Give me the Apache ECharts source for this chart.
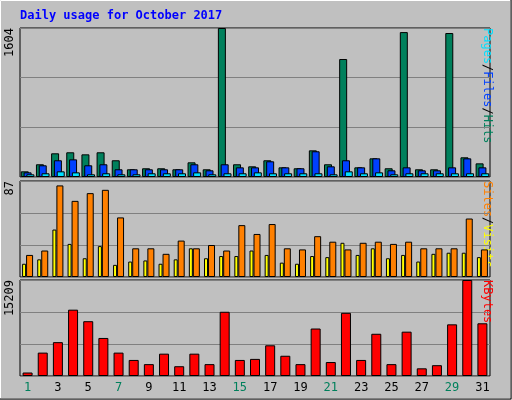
<!DOCTYPE html>
<html><head><meta charset="utf-8">
<script src="https://cdn.jsdelivr.net/npm/echarts@6/dist/echarts.min.js"></script>
<style>html,body{margin:0;padding:0;background:#C0C0C0}#c{width:512px;height:400px}</style>
</head><body><div id="c"></div>
<script>
const days = ['1','2','3','4','5','6','7','8','9','10','11','12','13','14','15','16','17','18','19','20','21','22','23','24','25','26','27','28','29','30','31'];
const weekend = ['1','7','8','14','15','21','22','28','29'];
const hits  = [61,137,255,266,244,266,180,83,94,94,83,158,83,1604,137,115,180,104,94,287,137,1270,104,201,94,1560,83,83,1550,212,147];
const files = [50,126,180,190,126,137,83,83,83,83,83,137,72,137,104,104,169,104,94,277,115,180,104,201,72,104,72,72,104,201,104];
const pages = [29,40,61,50,29,40,29,29,40,40,40,50,29,40,40,50,40,40,40,40,29,61,40,50,29,40,40,40,40,40,40];
const visits= [20,24,83,69,76,79,54,26,26,21,33,26,29,24,47,39,48,26,25,37,32,25,31,32,30,32,26,26,26,53,25];
const sites = [12,16,43,30,17,28,11,14,15,12,16,26,17,19,19,24,20,13,12,19,18,31,20,26,17,20,14,21,22,22,18];
const kbytes= [553,3705,5364,10507,8682,6027,3705,2544,1880,3539,1548,3539,1880,10175,2544,2710,4866,3207,1880,7521,2212,10009,2544,6691,1880,7023,1217,1714,8184,15209,8350];
const maxHits = 1604, maxVisits = 87, maxK = 15209;

const font = 'DejaVu Sans Mono';
const grids = [
  {left:20,top:28,width:470,height:149},
  {left:20,top:181,width:470,height:96},
  {left:20,top:280,width:470,height:96}
].map(g=>Object.assign(g,{show:true,backgroundColor:'#C0C0C0',borderColor:'#000',borderWidth:1}));
function xa(i,show){return {type:'category',gridIndex:i,data:days,axisLine:{show:false},axisTick:{show:false},
  axisLabel:{show:show,margin:6,fontFamily:font,fontSize:12,color:(v)=>weekend.includes(v)?'#00805C':'#000'}};}
function ya(i,max){return {type:'value',gridIndex:i,min:0,max:max,interval:max/3,axisLabel:{show:false},axisLine:{show:false},axisTick:{show:false},
  splitLine:{lineStyle:{color:'#808080',width:1}}};}
const bs = {borderColor:'#000',borderWidth:1};
function bar(name,data,i,color,w,gap){return {name,type:'bar',data,xAxisIndex:i,yAxisIndex:i,barWidth:w,barGap:gap,
  itemStyle:Object.assign({color},bs),animation:false,silent:true};}
const chart = echarts.init(document.getElementById('c'));
chart.setOption({
  backgroundColor:'#C0C0C0',
  animation:false,
  grid:grids,
  xAxis:[xa(0,false),xa(1,false),xa(2,true)],
  yAxis:[ya(0,maxHits),ya(1,maxVisits),ya(2,maxK)],
  series:[
    bar('Hits',hits,0,'#00805C',8,'-65%'),
    bar('Files',files,0,'#0040FF',8,'-65%'),
    bar('Pages',pages,0,'#00E0FF',8,'-65%'),
    bar('Sites',sites,1,'#FFFF00',4,'0%'),
    bar('Visits',visits,1,'#FF8000',7,'0%'),
    bar('KBytes',kbytes,2,'#FF0000',10,'0%')
  ],
  graphic:[
    {type:'rect',shape:{x:0.5,y:0.5,width:510,height:398},style:{fill:null,stroke:'#FFFFFF',lineWidth:1}},
    {type:'polyline',shape:{points:[[511,0],[511,399],[0,399]]},style:{stroke:'#000',lineWidth:1,fill:null}},
    {type:'text',x:20,y:16,style:{text:'Daily usage for October 2017',fill:'#0000FF',font:'bold 12px '+font,verticalAlign:'middle'}},
    {type:'text',x:16,y:28,rotation:Math.PI/2,style:{text:String(maxHits),fill:'#000',font:'12px '+font,align:'right',verticalAlign:'bottom'}},
    {type:'text',x:16,y:181,rotation:Math.PI/2,style:{text:String(maxVisits),fill:'#000',font:'12px '+font,align:'right',verticalAlign:'bottom'}},
    {type:'text',x:16,y:280,rotation:Math.PI/2,style:{text:String(maxK),fill:'#000',font:'12px '+font,align:'right',verticalAlign:'bottom'}},
    {type:'text',x:493,y:28,rotation:-Math.PI/2,style:{text:'{p|Pages}{s|/}{f|Files}{s|/}{h|Hits}',align:'left',verticalAlign:'top',font:'12px '+font,
      rich:{p:{fill:'#00E0FF',font:'12px '+font},f:{fill:'#0040FF',font:'12px '+font},h:{fill:'#00805C',font:'12px '+font},s:{fill:'#000',font:'12px '+font}}}},
    {type:'text',x:493,y:181,rotation:-Math.PI/2,style:{text:'{a|Sites}{s|/}{b|Visits}',align:'left',verticalAlign:'top',font:'12px '+font,
      rich:{a:{fill:'#FF8000',font:'12px '+font},b:{fill:'#FFFF00',font:'12px '+font},s:{fill:'#000',font:'12px '+font}}}},
    {type:'text',x:493,y:280,rotation:-Math.PI/2,style:{text:'KBytes',fill:'#FF0000',align:'left',verticalAlign:'top',font:'12px '+font}}
  ]
});
</script></body></html>
